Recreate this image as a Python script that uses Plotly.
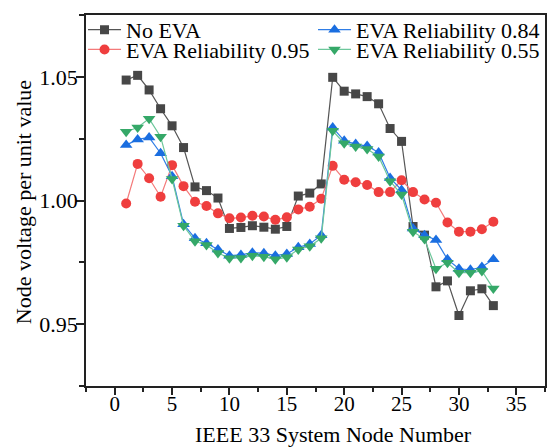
import plotly.graph_objects as go

# IEEE 33-bus node voltage profiles (p.u.)
nodes = list(range(1, 34))

no_eva = [1.0487, 1.0506, 1.0447, 1.0371, 1.0302, 1.0214, 1.0055, 1.0040, 1.0010,
          0.9887, 0.9891, 0.9898, 0.9892, 0.9884, 0.9895, 1.0018, 1.0030, 1.0067,
          1.0498, 1.0442, 1.0431, 1.0420, 1.0391, 1.0291, 1.0239, 0.9895, 0.9860,
          0.9651, 0.9675, 0.9535, 0.9635, 0.9643, 0.9575]

eva_095 = [0.9988, 1.0148, 1.0090, 1.0015, 1.0143, 1.0058, 0.9995, 0.9978, 0.9948,
           0.9928, 0.9931, 0.9938, 0.9935, 0.9922, 0.9932, 0.9964, 0.9975, 1.0007,
           1.0140, 1.0084, 1.0074, 1.0063, 1.0034, 1.0034, 1.0082, 1.0034, 1.0004,
           0.9991, 0.9911, 0.9874, 0.9874, 0.9884, 0.9914]

eva_084 = [1.0224, 1.0247, 1.0255, 1.0191, 1.0098, 0.9904, 0.9847, 0.9827, 0.9802,
           0.9777, 0.9780, 0.9789, 0.9787, 0.9777, 0.9784, 0.9811, 0.9824, 0.9860,
           1.0295, 1.0242, 1.0228, 1.0220, 1.0194, 1.0091, 1.0042, 0.9887, 0.9860,
           0.9840, 0.9762, 0.9724, 0.9720, 0.9731, 0.9762]

eva_055 = [1.0278, 1.0295, 1.0331, 1.0258, 1.0087, 0.9898, 0.9835, 0.9820, 0.9788,
           0.9767, 0.9768, 0.9777, 0.9773, 0.9762, 0.9771, 0.9802, 0.9815, 0.9847,
           1.0282, 1.0231, 1.0218, 1.0208, 1.0178, 1.0078, 1.0024, 0.9874, 0.9844,
           0.9724, 0.9748, 0.9708, 0.9708, 0.9715, 0.9644]

x_range = [-2.5, 37.5]
y_range = [0.925, 1.075]

FONT = "Liberation Serif, Times New Roman, serif"

series = [
    # name, values, line colour, marker colour, symbol, marker size, legend id
    ("No EVA", no_eva, "#555555", "#474747", "square", 9, "legend"),
    ("EVA Reliability 0.95", eva_095, "#f47a7a", "#ef3e3e", "circle", 10, "legend2"),
    ("EVA Reliability 0.84", eva_084, "#2f7de6", "#1a6ee0", "triangle-up", 11, "legend3"),
    ("EVA Reliability 0.55", eva_055, "#6cc79b", "#35a868", "triangle-down", 11, "legend4"),
]

fig = go.Figure()
for name, vals, lc, mc, sym, ms, lg in series:
    fig.add_trace(go.Scatter(
        x=nodes, y=vals, name=name, mode="lines+markers",
        line=dict(color=lc, width=1.2),
        marker=dict(symbol=sym, size=ms, color=mc, line=dict(width=0)),
        legend=lg, showlegend=True,
    ))

legend_common = dict(
    font=dict(family=FONT, size=22, color="#000000"),
    bgcolor="rgba(0,0,0,0)", borderwidth=0, itemwidth=33,
    xanchor="left", yanchor="middle",
    tracegroupgap=0, itemsizing="trace", visible=True,
)

PW = 556 - 86 - 9
PH = 447 - 11 - 61


def px_x(p):
    return (p - 86) / PW


def px_y(p):
    return 1 - (p - 11) / PH


fig.update_layout(
    width=556, height=447,
    margin=dict(l=86, r=9, t=11, b=61),
    paper_bgcolor="white", plot_bgcolor="white",
    font=dict(family=FONT, color="#000000"),
    showlegend=True,
    legend=dict(legend_common, x=px_x(83), y=px_y(26)),
    legend2=dict(legend_common, x=px_x(83), y=px_y(46)),
    legend3=dict(legend_common, x=px_x(314), y=px_y(26)),
    legend4=dict(legend_common, x=px_x(314), y=px_y(46)),
    xaxis=dict(
        range=x_range, tick0=0, dtick=5,
        ticks="outside", ticklen=7, tickwidth=1.5, tickcolor="#222222",
        ticklabelstandoff=-9,
        showline=True, linecolor="#222222", linewidth=1.5, mirror=True,
        showgrid=False, zeroline=False,
        tickfont=dict(family=FONT, size=21, color="#000000"),
        minor=dict(dtick=2.5, ticks="outside", ticklen=4,
                   tickwidth=1.5, tickcolor="#222222", showgrid=False),
    ),
    yaxis=dict(
        range=y_range, tick0=0.95, dtick=0.05, tickformat=".2f",
        ticks="outside", ticklen=8, tickwidth=1.5, tickcolor="#222222",
        ticklabelstandoff=-6,
        showline=True, linecolor="#222222", linewidth=1.5, mirror=True,
        showgrid=False, zeroline=False,
        tickfont=dict(family=FONT, size=22, color="#000000"),
        minor=dict(dtick=0.025, ticks="outside", ticklen=5,
                   tickwidth=1.5, tickcolor="#222222", showgrid=False),
    ),
    annotations=[
        dict(text="IEEE 33 System Node Number", xref="paper", yref="paper",
             x=px_x(335), y=px_y(435),
             xanchor="center", yanchor="middle", showarrow=False,
             font=dict(family=FONT, size=22, color="#000000")),
        dict(text="Node voltage per unit value", xref="paper", yref="paper",
             x=px_x(24), y=px_y(200),
             xanchor="center", yanchor="middle", textangle=-90, showarrow=False,
             font=dict(family=FONT, size=22, color="#000000")),
    ],
)

fig.write_html("out.html")
